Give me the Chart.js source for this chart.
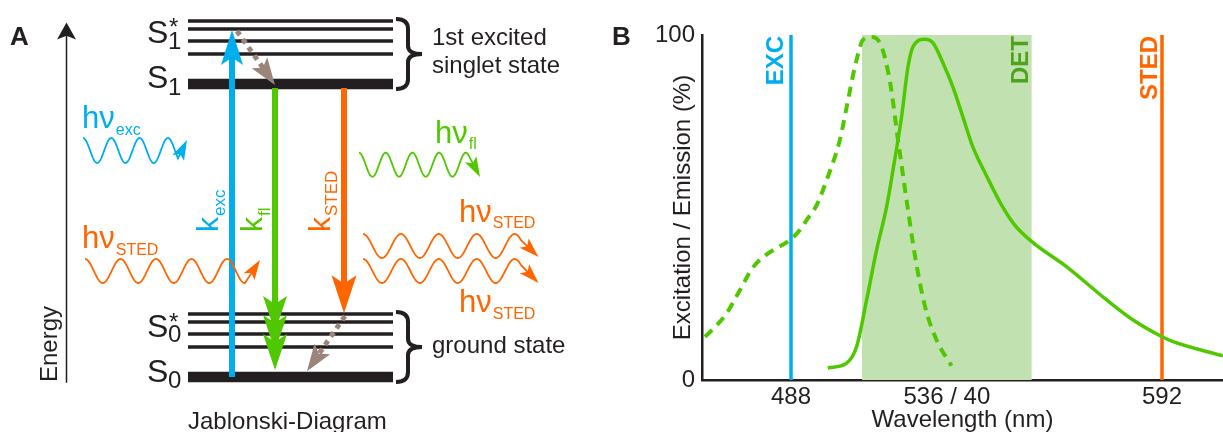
<!DOCTYPE html>
<html>
<head>
<meta charset="utf-8">
<script src="https://cdn.jsdelivr.net/npm/chart.js@4.4.1/dist/chart.umd.min.js"></script>
<style>
body { margin: 0; background: #fff; }
#wrap { position: relative; width: 1223px; height: 432px; overflow: hidden; }
#panelA { position: absolute; left: 0; top: 0; }
#panelB { position: absolute; left: 600px; top: 0; }
</style>
</head>
<body>
<div id="wrap">
  <canvas id="panelA" width="600" height="432"></canvas>
  <canvas id="panelB" width="623" height="432"></canvas>
</div>
<script>
// ---------- panel B: spectra ----------
const excitationNm  = [463.9, 467.2, 470.0, 473.7, 477.3, 481.2, 487.7, 490.5, 492.4, 495.2, 498.0, 501.7, 504.0, 505.9, 508.2, 510.6, 513.4, 515.8, 518.0, 520.8, 522.8, 525.6, 528.8, 533.0];
const excitationPct = [12.5, 15.9, 19.4, 26.1, 32.6, 36.4, 40.6, 43.5, 46.4, 50.7, 58.0, 69.6, 81.2, 90.7, 98.6, 99.4, 96.6, 86.1, 69.6, 49.3, 35.7, 21.2, 11.6, 4.1];
const emissionNm    = [498.3, 503.6, 506.4, 509.2, 512.0, 514.8, 516.6, 519.0, 520.8, 522.2, 525.6, 527.8, 530.6, 533.4, 536.2, 539.0, 542.9, 546.6, 550.5, 555.5, 565.3, 576.5, 583.9, 591.9, 595.1, 609.1];
const emissionPct   = [3.5, 4.9, 9.7, 23.2, 37.7, 50.2, 60.9, 76.3, 90.8, 96.6, 98.8, 97.7, 91.9, 84.9, 76.2, 67.5, 59.0, 51.5, 45.2, 40.1, 32.8, 23.2, 17.4, 12.6, 11.1, 7.0];
const excLaserNm  = 488;
const stedLaserNm = 592;
const detBandNm   = [507.9, 555.5];
const xTickValues = [488, 531.7, 592];
const xTickLabels = ['488', '536 / 40', '592'];
const yTickValues = [0, 100];

// ---------- panel A: Jablonski diagram (energy in arbitrary units) ----------
const levelX        = [188, 393];
const groundLevel   = 0;
const singletLevel  = 10;
const vibOffsets    = [1.02, 1.47, 1.88, 2.15];
const transitionX    = [232, 275, 344];          // k_exc, k_fl, k_STED
const transitionFrom = [0, 9.86, 9.86];
const transitionTo   = [11.84, 0.24, 2.18];
const relaxFromX = [237, 345];
const relaxFromE = [11.81, 2.08];
const relaxToX   = [275, 307];
const relaxToE   = [9.97, 0.2];

const ink = '#231f20', blue = '#00aeef', green = '#50c800', orange = '#ff6600', brown = '#9b8478';
const FONT = "'Liberation Sans', Arial, sans-serif";
Chart.defaults.font.family = FONT;
Chart.defaults.color = ink;

function seg(xs, ys, color, width, extra) {
    return Object.assign({
        data: xs.map((x, i) => ({ x: x, y: ys[i] })),
        showLine: true, pointRadius: 0, borderColor: color, borderWidth: width,
        borderCapStyle: 'butt', fill: false
    }, extra || {});
}

function drawHead(ctx, x, y, ux, uy, len, wid, color) {
    const px = -uy, py = ux;
    const bx = x - ux * len, by = y - uy * len;
    ctx.beginPath();
    ctx.moveTo(x, y);
    ctx.lineTo(bx + px * wid / 2, by + py * wid / 2);
    ctx.lineTo(x - ux * len * 0.78, y - uy * len * 0.78);
    ctx.lineTo(bx - px * wid / 2, by - py * wid / 2);
    ctx.closePath();
    ctx.fillStyle = color;
    ctx.fill();
}

// arrow heads on datasets that carry a "head" option
const arrowHeads = {
    id: 'arrowHeads',
    beforeDatasetDraw(chart, args) {
        const ds = chart.data.datasets[args.index];
        if (!ds.head) return;
        const pts = args.meta.data;
        const a = pts[pts.length - 2], b = pts[pts.length - 1];
        const dx = b.x - a.x, dy = b.y - a.y, l = Math.hypot(dx, dy);
        ds._tip = { x: b.x, y: b.y, ux: dx / l, uy: dy / l };
        b.x -= ds._tip.ux * ds.head.len * 0.6;
        b.y -= ds._tip.uy * ds.head.len * 0.6;
    },
    afterDatasetDraw(chart, args) {
        const ds = chart.data.datasets[args.index];
        if (!ds.head) return;
        const t = ds._tip, h = ds.head, gap = h.gap || 0;
        const pts = args.meta.data, b = pts[pts.length - 1];
        b.x = t.x; b.y = t.y;
        for (let k = 0; k < (h.count || 1); k++) {
            drawHead(chart.ctx, t.x - t.ux * gap * k, t.y - t.uy * gap * k, t.ux, t.uy, h.len, h.wid, ds.headColor || ds.borderColor);
        }
    }
};

// photon symbols and texts of the diagram
const photons = [
    { color: blue,   x0: 83,  x1: 178, y: 150.5, amp: 12.5, wl: 28.3, tip: [187, 140] },
    { color: green,  x0: 359, x1: 470, y: 164.7, amp: 12,   wl: 26.7, tip: [480, 177] },
    { color: orange, x0: 85,  x1: 245, y: 271,   amp: 12,   wl: 35.5, tip: [260, 260] },
    { color: orange, x0: 363, x1: 521, y: 246,   amp: 12,   wl: 37.9, tip: [538.5, 257] },
    { color: orange, x0: 363, x1: 521, y: 271,   amp: 12,   wl: 37.9, tip: [538.5, 283] }
];
const photonLabels = [
    { color: blue,   sub: 'exc',  x: 82,  y: 128, sy: 135 },
    { color: green,  sub: 'fl',   x: 435, y: 143, sy: 149 },
    { color: orange, sub: 'STED', x: 82,  y: 248, sy: 255 },
    { color: orange, sub: 'STED', x: 459, y: 222, sy: 228 },
    { color: orange, sub: 'STED', x: 459, y: 312, sy: 319 }
];
const rateLabels = [
    { color: blue,   sub: 'exc',  x: 218, sx: 225 },
    { color: green,  sub: 'fl',   x: 262, sx: 270 },
    { color: orange, sub: 'STED', x: 330, sx: 337 }
];

function brace(ctx, x, y0, y1) {
    const ym = (y0 + y1) / 2;
    ctx.beginPath();
    ctx.moveTo(x, y0);
    ctx.quadraticCurveTo(x + 12, y0, x + 12, y0 + 10);
    ctx.lineTo(x + 12, ym - 8);
    ctx.quadraticCurveTo(x + 12, ym, x + 26, ym);
    ctx.quadraticCurveTo(x + 12, ym, x + 12, ym + 8);
    ctx.lineTo(x + 12, y1 - 10);
    ctx.quadraticCurveTo(x + 12, y1, x, y1);
    ctx.stroke();
}

const diagramDecor = {
    id: 'diagramDecor',
    afterDraw(chart) {
        const ctx = chart.ctx;
        ctx.save();
        // photons
        photons.forEach(p => {
            ctx.strokeStyle = p.color;
            ctx.lineWidth = 1.8;
            ctx.beginPath();
            let ex = p.x0, ey = p.y;
            for (let x = p.x0; x <= p.x1; x += 0.5) {
                ex = x;
                ey = p.y - p.amp * Math.cos(2 * Math.PI * (x - p.x0) / p.wl);
                if (x === p.x0) ctx.moveTo(ex, ey); else ctx.lineTo(ex, ey);
            }
            const dx = p.tip[0] - ex, dy = p.tip[1] - ey, l = Math.hypot(dx, dy);
            ctx.lineTo(p.tip[0] - dx / l * 10, p.tip[1] - dy / l * 10);
            ctx.stroke();
            drawHead(ctx, p.tip[0], p.tip[1], dx / l, dy / l, 20, 13, p.color);
        });
        // braces
        ctx.strokeStyle = ink;
        ctx.lineWidth = 4;
        brace(ctx, 396, 19, 89);
        brace(ctx, 396, 312, 382);

        ctx.fillStyle = ink;
        ctx.textAlign = 'left';
        ctx.textBaseline = 'alphabetic';
        ctx.font = 'bold 26px ' + FONT;
        ctx.fillText('A', 10, 45);
        // state labels
        ctx.font = '32px ' + FONT;
        [43, 88, 337, 382].forEach(y => ctx.fillText('S', 147, y));
        ctx.font = '24px ' + FONT;
        ctx.fillText('1', 168, 49);
        ctx.fillText('1', 168, 95);
        ctx.fillText('0', 168, 342);
        ctx.fillText('0', 168, 388);
        ctx.fillText('*', 169, 35);
        ctx.fillText('*', 169, 330);
        ctx.fillText('1st excited', 432, 45);
        ctx.fillText('singlet state', 432, 73);
        ctx.fillText('ground state', 432, 353);
        ctx.fillText('Jablonski-Diagram', 188, 429);
        // energy axis label
        ctx.save();
        ctx.translate(56.5, 382);
        ctx.rotate(-Math.PI / 2);
        ctx.fillText('Energy', 0, 0);
        ctx.restore();
        // h nu labels
        photonLabels.forEach(t => {
            ctx.fillStyle = t.color;
            ctx.font = '31px ' + FONT;
            ctx.fillText('h\u03bd', t.x, t.y);
            const w = ctx.measureText('h\u03bd').width;
            ctx.font = '16px ' + FONT;
            ctx.fillText(t.sub, t.x + w + 1, t.sy);
        });
        // rate constants, rotated
        rateLabels.forEach(t => {
            ctx.save();
            ctx.translate(t.x, 232);
            ctx.rotate(-Math.PI / 2);
            ctx.fillStyle = t.color;
            ctx.font = '30px ' + FONT;
            ctx.fillText('k', 0, 0);
            const w = ctx.measureText('k').width;
            ctx.font = '17px ' + FONT;
            ctx.fillText(t.sub, w + 1, t.sx - t.x);
            ctx.restore();
        });
        ctx.restore();
    }
};

const diagramSets = [];
// transitions
diagramSets.push(seg([transitionX[0], transitionX[0]], [transitionFrom[0], transitionTo[0]], blue, 6, { head: { len: 35, wid: 22 } }));
diagramSets.push(seg([transitionX[1], transitionX[1]], [transitionFrom[1], transitionTo[1]], green, 6, { head: { len: 36, wid: 24, count: 3, gap: 19 } }));
diagramSets.push(seg([transitionX[2], transitionX[2]], [transitionFrom[2], transitionTo[2]], orange, 6, { head: { len: 38, wid: 25 } }));
// vibrational relaxation
relaxFromX.forEach((x, i) => {
    diagramSets.push(seg([x, relaxToX[i]], [relaxFromE[i], relaxToE[i]], brown, 5, { borderDash: [5, 5], head: { len: 27, wid: 19 } }));
});
// energy levels
[groundLevel, singletLevel].forEach(base => {
    diagramSets.push(seg(levelX, [base, base], ink, 10.5));
    vibOffsets.forEach(v => diagramSets.push(seg(levelX, [base + v, base + v], ink, 3.5)));
});
// energy axis
diagramSets.push(seg([66.5, 66.5], [-0.2, 12.1], ink, 1.5, { head: { len: 17, wid: 19 } }));

new Chart(document.getElementById('panelA'), {
    type: 'scatter',
    data: { datasets: diagramSets },
    options: {
        responsive: false,
        animation: false,
        events: [],
        devicePixelRatio: 1,
        layout: { padding: 0 },
        plugins: { legend: { display: false }, tooltip: { enabled: false } },
        scales: {
            x: { type: 'linear', display: false, min: 0, max: 600 },
            y: { type: 'linear', display: false, min: -1.877, max: 12.867 }
        }
    },
    plugins: [arrowHeads, diagramDecor]
});

// ---------- panel B chart ----------
const laserLabels = {
    id: 'laserLabels',
    afterDatasetsDraw(chart) {
        const ctx = chart.ctx, x = chart.scales.x, top = chart.chartArea.top;
        ctx.save();
        ctx.font = 'bold 24px ' + FONT;
        ctx.textAlign = 'right';
        ctx.textBaseline = 'alphabetic';
        [['EXC', excLaserNm, -8, blue], ['DET', detBandNm[1], -3.5, '#4da31a'], ['STED', stedLaserNm, -5, orange]].forEach(l => {
            ctx.save();
            ctx.translate(x.getPixelForValue(l[1]) + l[2], top + 1);
            ctx.rotate(-Math.PI / 2);
            ctx.fillStyle = l[3];
            ctx.fillText(l[0], 0, 0);
            ctx.restore();
        });
        ctx.textAlign = 'left';
        ctx.fillStyle = ink;
        ctx.font = 'bold 26px ' + FONT;
        ctx.fillText('B', 12, 45);
        ctx.restore();
    }
};

new Chart(document.getElementById('panelB'), {
    type: 'scatter',
    data: {
        datasets: [
            {
                data: excitationNm.map((x, i) => ({ x: x, y: excitationPct[i] })),
                showLine: true, pointRadius: 0, borderColor: green, borderWidth: 4,
                borderDash: [10, 7], cubicInterpolationMode: 'monotone'
            },
            {
                data: emissionNm.map((x, i) => ({ x: x, y: emissionPct[i] })),
                showLine: true, pointRadius: 0, borderColor: green, borderWidth: 3.5,
                cubicInterpolationMode: 'monotone'
            },
            {
                data: [{ x: excLaserNm, y: 0 }, { x: excLaserNm, y: 100 }],
                showLine: true, pointRadius: 0, borderColor: blue, borderWidth: 3.5
            },
            {
                data: [{ x: stedLaserNm, y: 0 }, { x: stedLaserNm, y: 100 }],
                showLine: true, pointRadius: 0, borderColor: orange, borderWidth: 3.5
            },
            {
                data: [{ x: detBandNm[0], y: 100 }, { x: detBandNm[1], y: 100 }],
                showLine: true, pointRadius: 0, borderWidth: 0,
                fill: 'origin', backgroundColor: '#c2e1b1'
            }
        ]
    },
    options: {
        responsive: false,
        animation: false,
        events: [],
        devicePixelRatio: 1,
        layout: { padding: { top: 35, right: 0, bottom: 0, left: 0 } },
        plugins: { legend: { display: false }, tooltip: { enabled: false } },
        scales: {
            x: {
                type: 'linear', min: 463.05, max: 609.1,
                afterBuildTicks: s => { s.ticks = xTickValues.map(v => ({ value: v })); },
                afterFit: s => { s.height = 52; s.paddingLeft = 0; s.paddingRight = 0; },
                grid: { display: false, drawTicks: false },
                border: { display: true, color: ink, width: 2.5 },
                ticks: { autoSkip: false, maxRotation: 0, padding: 3, color: ink, font: { size: 24 },
                         callback: (v, i) => xTickLabels[i] },
                title: { display: true, text: 'Wavelength (nm)', color: ink, font: { size: 24, lineHeight: 1 }, padding: 0 }
            },
            y: {
                type: 'linear', min: 0, max: 100,
                afterBuildTicks: s => { s.ticks = yTickValues.map(v => ({ value: v })); },
                afterFit: s => { s.width = 102; s.paddingTop = 0; s.paddingBottom = 0; },
                grid: { display: false, drawTicks: false },
                border: { display: true, color: ink, width: 2.5 },
                ticks: { padding: 7, color: ink, font: { size: 24 } },
                title: { display: true, text: 'Excitation / Emission (%)', color: ink, font: { size: 24, lineHeight: 1 }, padding: { top: 71, bottom: 0 } }
            }
        }
    },
    plugins: [laserLabels]
});
</script>
</body>
</html>
